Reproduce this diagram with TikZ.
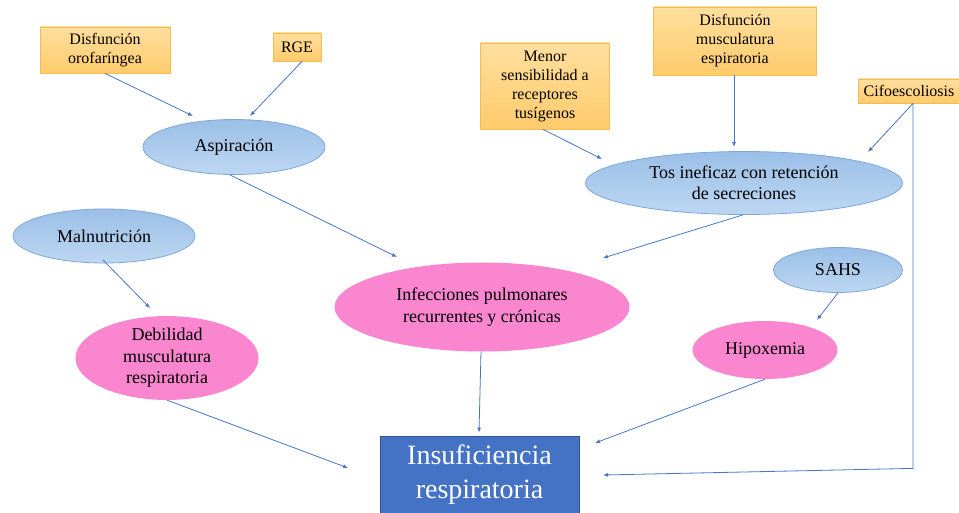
\documentclass[tikz,border=0pt]{standalone}
\usepackage{fontspec}
\setmainfont{Liberation Serif}
\usetikzlibrary{shapes.geometric,calc,arrows.meta}
\definecolor{arrowblue}{HTML}{4A76C8}
\definecolor{orangefill}{HTML}{FFD585}
\definecolor{orangetop}{HTML}{FFDF9E}
\definecolor{orangebot}{HTML}{FFCB6C}
\definecolor{orangeline}{HTML}{F4BE4E}
\definecolor{bluetop}{HTML}{9BBFE7}
\definecolor{bluebot}{HTML}{BDD7F2}
\definecolor{blueline}{HTML}{7FA8D9}
\definecolor{pinkfill}{HTML}{FA86D0}
\definecolor{insfill}{HTML}{4472C4}
\definecolor{insline}{HTML}{2F528F}
\tikzset{
  cause/.style={rectangle, draw=orangeline, line width=0.8pt, top color=orangetop, bottom color=orangebot,
    inner sep=0pt, align=center, font=\fontsize{16}{19}\selectfont},
  blueell/.style={ellipse, draw=blueline, line width=0.8pt, top color=bluetop, bottom color=bluebot,
    inner sep=0pt, align=center, font=\fontsize{18}{21}\selectfont},
  pinkell/.style={ellipse, fill=pinkfill, draw=none, inner sep=0pt, align=center,
    font=\fontsize{18}{21.5}\selectfont},
  result/.style={rectangle, fill=insfill, draw=insline, line width=0.8pt, text=white, inner sep=0pt,
    align=center, font=\fontsize{28}{34}\selectfont},
  arr/.style={draw=arrowblue, line width=0.8pt, -{Latex[length=5pt,width=4pt]}},
}
\begin{document}
\begin{tikzpicture}[x=1pt,y=-1pt]
\useasboundingbox[fill=white] (0,0) rectangle (959,513);
% cause boxes
\node[cause, minimum width=130, minimum height=46] (dis) at (105,50) {Disfunción\\orofaríngea};
\node[cause, minimum width=48, minimum height=28] (rge) at (297,47) {RGE};
\node[cause, minimum width=129, minimum height=86] (men) at (545,86) {Menor\\sensibilidad a\\receptores\\tusígenos};
\node[cause, minimum width=163, minimum height=68] (dism) at (735,41) {Disfunción\\musculatura\\espiratoria};
\node[cause, minimum width=102, minimum height=24] (cifo) at (909,91) {Cifoescoliosis};
% blue ellipses
\node[blueell, minimum width=182, minimum height=55] (asp) at (234,147) {Aspiración};
\node[blueell, minimum width=182, minimum height=54] (mal) at (104,236) {Malnutrición};
\node[blueell, minimum width=317, minimum height=63] (tos) at (744,183) {Tos ineficaz con retención\\de secreciones};
\node[blueell, minimum width=129, minimum height=45] (sahs) at (838,270) {SAHS};
% pink ellipses
\node[pinkell, minimum width=295, minimum height=89] (inf) at (482,307) {Infecciones pulmonares\\recurrentes y crónicas};
\node[pinkell, minimum width=183, minimum height=79] (deb) at (167,358) {Debilidad\\musculatura\\respiratoria};
\node[pinkell, minimum width=145, minimum height=58] (hip) at (765,350) {Hipoxemia};
% result
\node[result, minimum width=199, minimum height=78] (ins) at (479.5,475) {Insuficiencia\\respiratoria};
% connectors
\draw[arr] (dis.south) -- ($(asp)+(-41,-31)$);
\draw[arr] ($(rge.south)+(5,0)$) -- ($(asp)+(16,-31)$);
\draw[arr] ($(asp.south)+(-4,0)$) -- ($(inf)+(-85,-50)$);
\draw[arr] ($(mal)+(-1,24)$) -- ($(deb)+(-17,-50)$);
\draw[arr] (deb.south) -- ($(ins)+(-131.5,-7)$);
\draw[arr] ($(inf.south)+(-1,0)$) -- ($(ins.north)+(-0.5,-3)$);
\draw[arr] ($(men.south)+(-2,0)$) -- ($(tos)+(-142,-24)$);
\draw[arr] ($(dism.south)+(-1,0)$) -- ($(tos)+(-10,-36)$);
\draw[arr] ($(cifo.south)+(4,0)$) -- ($(tos)+(124,-31)$);
\coordinate (corner) at ($(cifo.south)+(4,365)$);
\draw[arr] ($(cifo.south)+(4,0)$) -- (corner) -- ($(ins)+(123.5,0)$);
\draw[arr] ($(tos.south)+(-1,0)$) -- ($(inf)+(121,-49)$);
\draw[arr] (sahs.south) -- ($(hip)+(52,-30)$);
\draw[arr] (hip.south) -- ($(ins)+(115.5,-32)$);
\end{tikzpicture}
\end{document}
